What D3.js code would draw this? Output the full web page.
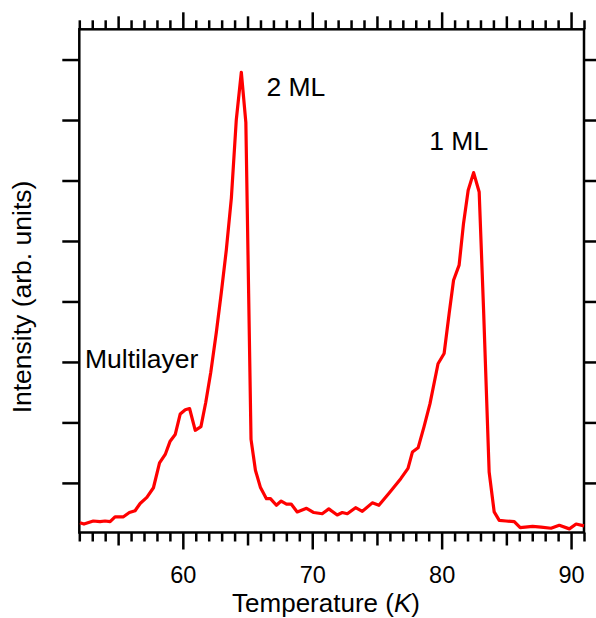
<!DOCTYPE html>
<html>
<head>
<meta charset="utf-8">
<script src="https://cdn.jsdelivr.net/npm/d3@7"></script>
<style>
  html, body { margin: 0; padding: 0; background: #fff; }
  svg { display: block; }
  text { font-family: "Liberation Sans", Arial, Helvetica, sans-serif; fill: #000; }
</style>
</head>
<body>
<svg id="chart" width="596" height="618"></svg>
<script>
// Thermal desorption trace: intensity vs. temperature
const temps = [
  52.05, 52.36, 53.08, 53.60, 53.99, 54.38, 54.76, 55.41, 55.87, 56.31,
  56.70, 57.22, 57.73, 58.20, 58.64, 59.02, 59.41, 59.80, 60.19, 60.52,
  60.96, 61.40, 61.77, 62.16, 62.59, 62.97, 63.36, 63.75, 64.13, 64.52,
  64.87, 65.27, 65.61, 65.99, 66.46, 66.77, 67.23, 67.60, 68.01, 68.37,
  68.84, 69.56, 70.12, 70.77, 71.28, 71.93, 72.32, 72.71, 73.35, 73.87,
  74.64, 75.15, 75.93, 76.84, 77.40, 77.74, 78.18, 78.64, 79.10, 79.72,
  80.19, 80.58, 80.92, 81.35, 81.69, 82.05, 82.47, 82.90, 83.24, 83.67,
  84.06, 84.45, 84.97, 85.61, 86.07, 87.03, 87.68, 88.45, 89.09, 89.87,
  90.39, 91.00
];
const intensity = [
  0.34, 0.32, 0.37, 0.36, 0.37, 0.36, 0.44, 0.44, 0.51, 0.54,
  0.66, 0.76, 0.92, 1.33, 1.47, 1.69, 1.80, 2.14, 2.21, 2.23,
  1.87, 1.93, 2.33, 2.83, 3.49, 4.14, 4.85, 5.71, 7.00, 7.79,
  6.96, 1.72, 1.21, 0.93, 0.74, 0.74, 0.63, 0.70, 0.65, 0.65,
  0.52, 0.58, 0.51, 0.49, 0.57, 0.47, 0.51, 0.49, 0.59, 0.53,
  0.67, 0.63, 0.83, 1.07, 1.24, 1.51, 1.58, 1.93, 2.31, 2.97,
  3.14, 3.80, 4.35, 4.60, 5.29, 5.84, 6.13, 5.81, 3.86, 1.18,
  0.52, 0.38, 0.37, 0.36, 0.26, 0.28, 0.27, 0.25, 0.30, 0.24,
  0.32, 0.29
];

// Axis ticks
const xMajorTicks = [60, 70, 80, 90];
const xMidTicks = [55, 65, 75, 85];
const xMinorTicks = d3.range(52, 92).filter(t => t % 5 !== 0);
const yTicks = [1, 2, 3, 4, 5, 6, 7, 8];

// Peak annotations
const peakLabels = [
  { text: "2 ML", t: 66.46, v: 7.40 },
  { text: "1 ML", t: 79.04, v: 6.50 },
  { text: "Multilayer", t: 52.44, v: 2.90 }
];

const xLabel = "Temperature";
const xUnit = "K";
const yLabel = "Intensity (arb. units)";

const svg = d3.select("#chart");
const plotLeft = 79.3, plotRight = 584, plotTop = 29.3, plotBottom = 532.5;

const x = d3.scaleLinear().domain([52, 91]).range([plotLeft, plotRight]);
const y = d3.scaleLinear().domain([0.18, 8.5]).range([plotBottom, plotTop]);

const tickStroke = 2.5;
function styleAxis(g) {
  g.select(".domain").remove();
  g.selectAll(".tick line").attr("stroke", "#000").attr("stroke-width", tickStroke);
}

// bottom axis: minor, mid, major (labelled)
[[xMinorTicks, 9, false], [xMidTicks, 13, false], [xMajorTicks, 17, true]].forEach(([vals, len, lab]) => {
  const g = svg.append("g").attr("transform", `translate(0,${plotBottom})`)
    .call(d3.axisBottom(x).tickValues(vals).tickSize(len).tickPadding(16.5)
      .tickFormat(lab ? d3.format("d") : () => ""));
  styleAxis(g);
  g.selectAll(".tick text").attr("font-size", 23.5).attr("font-family", '"Liberation Sans", Arial, sans-serif');
});
// top axis: same tick layout, no labels
[[xMinorTicks, 9], [xMidTicks, 13], [xMajorTicks, 17]].forEach(([vals, len]) => {
  const g = svg.append("g").attr("transform", `translate(0,${plotTop})`)
    .call(d3.axisTop(x).tickValues(vals).tickSize(len).tickFormat(() => ""));
  styleAxis(g);
});
// left and right axes
const gl = svg.append("g").attr("transform", `translate(${plotLeft},0)`)
  .call(d3.axisLeft(y).tickValues(yTicks).tickSize(17).tickFormat(() => ""));
styleAxis(gl);
const gr = svg.append("g").attr("transform", `translate(${plotRight},0)`)
  .call(d3.axisRight(y).tickValues(yTicks).tickSize(17).tickFormat(() => ""));
styleAxis(gr);

// frame
svg.append("rect")
  .attr("x", plotLeft).attr("y", plotTop)
  .attr("width", plotRight - plotLeft).attr("height", plotBottom - plotTop)
  .attr("fill", "none").attr("stroke", "#000").attr("stroke-width", tickStroke);

// trace
const pts = temps.map((t, i) => [t, intensity[i]]);
svg.append("path")
  .datum(pts)
  .attr("fill", "none")
  .attr("stroke", "#ff0000")
  .attr("stroke-width", 3.2)
  .attr("stroke-linejoin", "round")
  .attr("d", d3.line().x(d => x(d[0])).y(d => y(d[1])));

// annotations
svg.selectAll("text.peak").data(peakLabels).enter().append("text")
  .attr("class", "peak")
  .attr("x", d => x(d.t)).attr("y", d => y(d.v))
  .attr("font-size", 26.5)
  .text(d => d.text);

// axis titles
const xt = svg.append("text")
  .attr("x", 326).attr("y", 611.5)
  .attr("text-anchor", "middle").attr("font-size", 26);
xt.append("tspan").text(xLabel + " (");
xt.append("tspan").attr("font-style", "italic").text(xUnit);
xt.append("tspan").text(")");

svg.append("text")
  .attr("transform", "translate(31,297) rotate(-90)")
  .attr("text-anchor", "middle").attr("font-size", 26.5)
  .text(yLabel);
</script>
</body>
</html>
